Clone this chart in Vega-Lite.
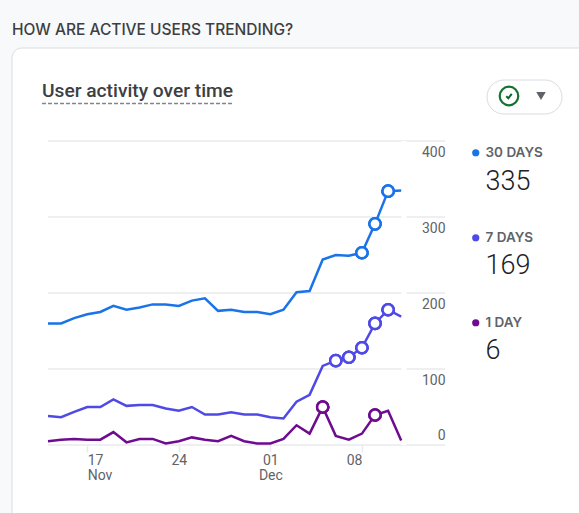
{
"$schema":"https://vega.github.io/schema/vega-lite/v6.json",
"width":397,"height":304,
"autosize":{"type":"none"},
"padding":{"left":48,"top":141,"right":134,"bottom":68},
"background":"#f8f9fa",
"config":{"view":{"stroke":null},"font":"Roboto"},
"datasets":{
"activity":[
{"date":"2024-11-14","d30":160,"d7":38,"d1":5},
{"date":"2024-11-15","d30":160,"d7":36.5,"d1":7},
{"date":"2024-11-16","d30":167,"d7":43.5,"d1":8},
{"date":"2024-11-17","d30":172,"d7":50,"d1":7},
{"date":"2024-11-18","d30":175,"d7":50,"d1":7},
{"date":"2024-11-19","d30":183,"d7":60,"d1":17},
{"date":"2024-11-20","d30":178,"d7":51.5,"d1":3.5},
{"date":"2024-11-21","d30":181,"d7":52.7,"d1":8},
{"date":"2024-11-22","d30":185,"d7":52.7,"d1":8},
{"date":"2024-11-23","d30":185,"d7":48,"d1":2},
{"date":"2024-11-24","d30":183,"d7":45,"d1":5},
{"date":"2024-11-25","d30":190,"d7":50,"d1":10},
{"date":"2024-11-26","d30":193,"d7":40,"d1":7},
{"date":"2024-11-27","d30":176.5,"d7":40,"d1":5},
{"date":"2024-11-28","d30":178,"d7":43,"d1":12},
{"date":"2024-11-29","d30":175,"d7":40,"d1":5},
{"date":"2024-11-30","d30":175,"d7":40,"d1":2},
{"date":"2024-12-01","d30":172,"d7":36.5,"d1":2},
{"date":"2024-12-02","d30":178,"d7":35,"d1":8},
{"date":"2024-12-03","d30":201,"d7":57,"d1":26},
{"date":"2024-12-04","d30":202.5,"d7":66,"d1":15},
{"date":"2024-12-05","d30":244,"d7":104,"d1":50,"m1":true},
{"date":"2024-12-06","d30":250,"d7":111,"d1":12,"m7":true},
{"date":"2024-12-07","d30":249,"d7":115.5,"d1":7,"m7":true},
{"date":"2024-12-08","d30":253,"d7":128,"d1":15,"m30":true,"m7":true},
{"date":"2024-12-09","d30":291,"d7":160,"d1":39.5,"m30":true,"m7":true,"m1":true},
{"date":"2024-12-10","d30":334,"d7":178,"d1":45,"m30":true,"m7":true},
{"date":"2024-12-11","d30":335,"d7":169,"d1":6}
],
"grid":[{"users":0},{"users":100},{"users":200},{"users":300},{"users":400}],
"latest":[{"series":"30 DAYS","latest":"335"},{"series":"7 DAYS","latest":"169"},{"series":"1 DAY","latest":"6"}],
"one":[{"note":"chrome"}]
},
"data":{"name":"activity"},
"transform":[{"fold":["d30","d7","d1"],"as":["key","users"]},
{"calculate":"{d30:'30 DAYS',d7:'7 DAYS',d1:'1 DAY'}[datum.key]","as":"series"}],
"layer":[
{"data":{"name":"one"},"transform":[],"mark":{"type":"rect","fill":"#ffffff","stroke":"#dadce0","strokeWidth":1,"cornerRadius":10,"clip":false},
 "encoding":{"x":{"value":-36},"x2":{"value":620},"y":{"value":-93},"y2":{"value":420}}},
{"data":{"name":"one"},"transform":[],"mark":{"type":"rect","fill":"#ffffff","stroke":"#dadce0","strokeWidth":1,"cornerRadius":17},
 "encoding":{"x":{"value":439},"x2":{"value":514},"y":{"value":-61},"y2":{"value":-27}}},
{"data":{"name":"one"},"transform":[],"mark":{"type":"point","shape":"circle","filled":false,"size":345,"stroke":"#137333","strokeWidth":2.2,"opacity":1},
 "encoding":{"x":{"value":461},"y":{"value":-45}}},
{"data":{"name":"one"},"transform":[],"mark":{"type":"point","shape":"M-0.5,0.05L-0.12,0.42L0.5,-0.4","filled":false,"size":120,"stroke":"#0d652d","strokeWidth":2,"opacity":1},
 "encoding":{"x":{"value":461},"y":{"value":-45}}},
{"data":{"name":"one"},"transform":[],"mark":{"type":"point","shape":"triangle-down","filled":true,"size":90,"fill":"#5f6368","opacity":1,"stroke":null},
 "encoding":{"x":{"value":493},"y":{"value":-45}}},
{"data":{"name":"one"},"transform":[],"mark":{"type":"text","text":"HOW ARE ACTIVE USERS TRENDING?","font":"Inter","fontSize":15.5,"fontWeight":500,"align":"left","baseline":"middle","fill":"#3c4043"},
 "encoding":{"x":{"value":-36},"y":{"value":-111}}},
{"data":{"name":"one"},"transform":[],"mark":{"type":"text","text":"User activity over time","font":"Roboto","fontSize":19.2,"fontWeight":500,"align":"left","baseline":"middle","fill":"#3c4043"},
 "encoding":{"x":{"value":-6},"y":{"value":-50}}},
{"data":{"name":"one"},"transform":[],"mark":{"type":"rule","stroke":"#80868b","strokeWidth":1.5,"strokeDash":[4,2]},
 "encoding":{"x":{"value":-6},"x2":{"value":185},"y":{"value":-37.5}}},
{"data":{"name":"grid"},"transform":[],"mark":{"type":"rule","stroke":"#e8eaed","strokeWidth":1.5},
 "encoding":{"y":{"field":"users","type":"quantitative"}}},
{"data":{"values":[{"date":"2024-12-11T05:00:00Z"}]},"transform":[],"mark":{"type":"rule","stroke":"#ffffff","strokeWidth":5},
 "encoding":{"x":{"field":"date","type":"temporal"}}},
{"mark":{"type":"line","strokeWidth":2.5,"interpolate":"linear"},
 "encoding":{
  "x":{"field":"date","type":"temporal","title":null,
   "scale":{"type":"utc","domain":[{"year":2024,"month":11,"date":14,"utc":true},{"year":2024,"month":12,"date":14,"hours":8,"minutes":24,"utc":true}]},
   "axis":{"values":[{"year":2024,"month":11,"date":17,"utc":true},{"year":2024,"month":11,"date":24,"utc":true},{"year":2024,"month":12,"date":1,"utc":true},{"year":2024,"month":12,"date":8,"utc":true}],
    "grid":false,"domain":false,"zindex":1,"tickColor":"#e8eaed","tickSize":7,"tickWidth":1.5,
    "labelColor":"#5f6368","labelFontSize":14,"labelFont":"Roboto","labelPadding":1,"labelLineHeight":15,"labelOverlap":false,"labelBound":false,"labelFlush":false,
    "labelExpr":"utcdate(datum.value)==17?['17','Nov']:utcdate(datum.value)==24?['24']:utcdate(datum.value)==1?['01','Dec']:['08']",
    "labelAlign":{"condition":[{"test":"utcdate(datum.value)==17","value":"left"},{"test":"utcdate(datum.value)==8","value":"right"}],"value":"center"}}},
  "y":{"field":"users","type":"quantitative","title":null,"scale":{"domain":[0,400],"nice":false},
   "axis":{"orient":"right","values":[0,100,200,300,400],"grid":false,"domain":false,"ticks":false,"zindex":1,"labelAlign":"right","labelPadding":0,"labelColor":"#5f6368","labelFontSize":14,"labelFont":"Roboto","labelBaseline":"middle",
    "labelOffset":{"condition":{"test":"datum.value==0","value":-10},"value":11.5}}},
  "color":{"field":"series","type":"nominal","scale":{"domain":["30 DAYS","7 DAYS","1 DAY"],"range":["#1a73e8","#4f4ae6","#6f0b8f"]},
   "legend":{"title":null,"orient":"none","legendX":421,"legendY":5,"symbolType":"circle","symbolSize":14,"symbolStrokeWidth":3.5,"labelFont":"Inter","labelFontSize":13.5,"labelFontWeight":600,"labelColor":"#5f6368","rowPadding":66,"labelOffset":3,"symbolOffset":0,"zindex":1}},
  "detail":{"field":"series"}
 }},
{"transform":[{"fold":["d30","d7","d1"],"as":["key","users"]},
 {"calculate":"{d30:'30 DAYS',d7:'7 DAYS',d1:'1 DAY'}[datum.key]","as":"series"},
 {"filter":"(datum.key=='d30'&&datum.m30)||(datum.key=='d7'&&datum.m7)||(datum.key=='d1'&&datum.m1)"}],
 "mark":{"type":"point","shape":"circle","filled":false,"fill":"#ffffff","fillOpacity":1,"opacity":1,"size":125,"strokeWidth":2.5},
 "encoding":{"x":{"field":"date","type":"temporal"},"y":{"field":"users","type":"quantitative"},
  "color":{"field":"series","type":"nominal","legend":null}}},
{"data":{"name":"latest"},"transform":[{"filter":"datum.series=='30 DAYS'"}],"mark":{"type":"text","font":"Roboto","fontSize":27,"fontWeight":300,"align":"left","baseline":"middle","fill":"#202124"},
 "encoding":{"text":{"field":"latest"},"x":{"value":437.5},"y":{"value":40.5}}},
{"data":{"name":"latest"},"transform":[{"filter":"datum.series=='7 DAYS'"}],"mark":{"type":"text","font":"Roboto","fontSize":27,"fontWeight":300,"align":"left","baseline":"middle","fill":"#202124"},
 "encoding":{"text":{"field":"latest"},"x":{"value":437.5},"y":{"value":125}}},
{"data":{"name":"latest"},"transform":[{"filter":"datum.series=='1 DAY'"}],"mark":{"type":"text","font":"Roboto","fontSize":27,"fontWeight":300,"align":"left","baseline":"middle","fill":"#202124"},
 "encoding":{"text":{"field":"latest"},"x":{"value":437.5},"y":{"value":210}}}
]
}
